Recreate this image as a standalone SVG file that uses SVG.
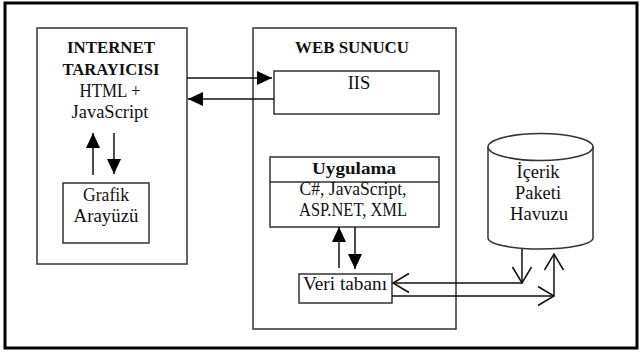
<svg xmlns="http://www.w3.org/2000/svg" width="642" height="356" viewBox="0 0 642 356">
  <style>
    .box { fill: #fff; stroke: #333; stroke-width: 1.5; }
    .frame { fill: #fff; stroke: #000; stroke-width: 3; }
    .wire { fill: none; stroke: #111; stroke-width: 1.5; }
    text { font-family: "Liberation Serif", "Times New Roman", serif; font-size: 18.5px; fill: #111; text-anchor: middle; }
    .b { font-weight: bold; font-size: 17.5px; }
  </style>
  <defs>
    <marker id="solid" markerUnits="userSpaceOnUse" markerWidth="16" markerHeight="16" viewBox="0 0 16 16" refX="15" refY="8" orient="auto">
      <path d="M0,1 L15,8 L0,15 z" fill="#000"/>
    </marker>
    <marker id="open" markerUnits="userSpaceOnUse" markerWidth="20" markerHeight="22" viewBox="0 0 20 22" refX="17" refY="11" orient="auto" overflow="visible">
      <path d="M1,1.5 L17,11 L1,20.5" fill="none" stroke="#111" stroke-width="1.5"/>
    </marker>
  </defs>

  <rect class="frame" x="5" y="3" width="632" height="345"/>

  <g id="browser">
    <rect class="box" x="37" y="28" width="150" height="236"/>
    <text class="b" x="111" y="53" textLength="88" lengthAdjust="spacingAndGlyphs">INTERNET</text>
    <text class="b" x="111" y="75" textLength="97" lengthAdjust="spacingAndGlyphs">TARAYICISI</text>
    <text x="110" y="97" textLength="61" lengthAdjust="spacingAndGlyphs">HTML +</text>
    <text x="110" y="118" textLength="77" lengthAdjust="spacingAndGlyphs">JavaScript</text>
  </g>

  <g id="gui">
    <rect class="box" x="63" y="183" width="86" height="60"/>
    <text x="106" y="201" textLength="46" lengthAdjust="spacingAndGlyphs">Grafik</text>
    <text x="106" y="222" textLength="65" lengthAdjust="spacingAndGlyphs">Arayüzü</text>
  </g>

  <g id="webserver">
    <rect class="box" x="253" y="28" width="203" height="301"/>
    <text class="b" x="352" y="53" textLength="114" lengthAdjust="spacingAndGlyphs">WEB SUNUCU</text>
  </g>

  <g id="iis">
    <rect class="box" x="274" y="71" width="165" height="43"/>
    <text x="359" y="89">IIS</text>
  </g>

  <g id="app">
    <rect class="box" x="270" y="157" width="169" height="70"/>
    <line class="box" x1="270" y1="182" x2="439" y2="182"/>
    <text class="b" x="354" y="174" textLength="84" lengthAdjust="spacingAndGlyphs">Uygulama</text>
    <text x="353" y="195" textLength="107" lengthAdjust="spacingAndGlyphs">C#, JavaScript,</text>
    <text x="353" y="216" textLength="108" lengthAdjust="spacingAndGlyphs">ASP.NET, XML</text>
  </g>

  <g id="database">
    <rect class="box" x="299" y="274" width="93" height="29"/>
    <text x="345" y="290" textLength="84" lengthAdjust="spacingAndGlyphs">Veri tabanı</text>
  </g>

  <g id="repository">
    <path class="box" d="M488,147 L488,238 A52.5,11 0 0 0 593,238 L593,147"/>
    <ellipse class="box" cx="540.5" cy="147" rx="52.5" ry="13.5"/>
    <text x="538" y="178" textLength="43" lengthAdjust="spacingAndGlyphs">İçerik</text>
    <text x="538" y="199" textLength="46" lengthAdjust="spacingAndGlyphs">Paketi</text>
    <text x="539" y="220" textLength="58" lengthAdjust="spacingAndGlyphs">Havuzu</text>
  </g>

  <g id="connectors">
    <line class="wire" x1="187" y1="78" x2="272" y2="78" marker-end="url(#solid)"/>
    <line class="wire" x1="274" y1="99" x2="188" y2="99" marker-end="url(#solid)"/>
    <line class="wire" x1="93" y1="175" x2="93" y2="133" marker-end="url(#solid)"/>
    <line class="wire" x1="114" y1="133" x2="114" y2="174" marker-end="url(#solid)"/>
    <line class="wire" x1="339" y1="268" x2="339" y2="227" marker-end="url(#solid)"/>
    <line class="wire" x1="355" y1="227" x2="355" y2="269" marker-end="url(#solid)"/>
    <line class="wire" x1="522" y1="249" x2="522" y2="283" marker-end="url(#open)"/>
    <line class="wire" x1="522" y1="283" x2="393" y2="283" marker-end="url(#open)"/>
    <line class="wire" x1="392" y1="296" x2="554" y2="296" marker-end="url(#open)"/>
    <line class="wire" x1="554" y1="296" x2="554" y2="254" marker-end="url(#open)"/>
  </g>
</svg>
